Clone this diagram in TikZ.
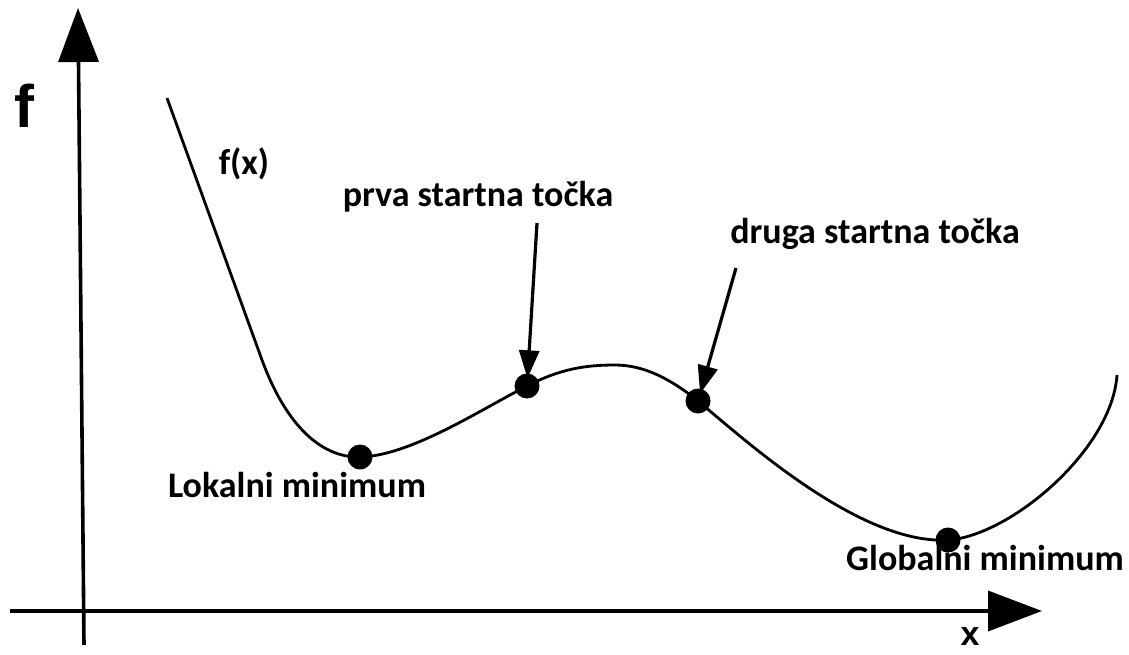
\documentclass[tikz,border=0pt]{standalone}
\usepackage{fontspec}
\setmainfont{Carlito}
\newfontfamily\arialfont{Liberation Sans}
\usetikzlibrary{arrows.meta}
\begin{document}
\begin{tikzpicture}[x=1pt,y=-1pt,
  axisline/.style={line width=3.6pt,-{Triangle[length=54pt,width=40pt]}},
  pointer/.style={line width=3.2pt,-{Triangle[length=28pt,width=20pt]},shorten >=-5pt},
  curveline/.style={line width=2.8pt},
  dotnode/.style={circle,fill=black,inner sep=0pt,minimum size=25pt},
  lbl/.style={inner sep=0pt,anchor=base,font=\fontsize{36}{40}\selectfont\bfseries}
]
\useasboundingbox (0,0) rectangle (1129,655);
% axes
\coordinate (yb) at (84,645);
\coordinate (yt) at (78,8);
\coordinate (xl) at (10,611);
\coordinate (xr) at (1042,611);
\draw[axisline] (yb) -- (yt);
\draw[axisline] (xl) -- (xr);
\node[inner sep=0pt,anchor=base,font=\arialfont\fontsize{60}{62}\selectfont\bfseries] (flbl) at (24,128) {f};
\node[inner sep=0pt,anchor=base,font=\arialfont\fontsize{34}{38}\selectfont\bfseries] (xlbl) at (970,645) {x};
% curve
\draw[curveline] (167,98) -- (262,360)
  .. controls (284,420) and (318,458) .. (360,457)
  .. controls (410,456) and (480,410) .. (527,386)
  .. controls (560,369) and (585,365) .. (615,365)
  .. controls (645,365) and (672,380) .. (698,401)
  .. controls (745,440) and (860,545) .. (948,540)
  .. controls (1010,536) and (1112,450) .. (1117,375);
% dots
\node[dotnode] (dmin1) at (360,457) {};
\node[dotnode] (dst1) at (527,386) {};
\node[dotnode] (dst2) at (698,401) {};
\node[dotnode] (dmin2) at (948,540) {};
% labels
\node[lbl] (fx) at (244,175) {f(x)};
\node[lbl] (prva) at (478,207) {prva startna točka};
\node[lbl] (druga) at (875,243) {druga startna točka};
\node[lbl] (lok) at (297,497) {Lokalni minimum};
\node[lbl] (glob) at (985,570) {Globalni minimum};
% pointers
\coordinate (p1) at (537,223);
\coordinate (p2) at (736,268);
\draw[pointer] (p1) -- (dst1);
\draw[pointer] (p2) -- (dst2);
\end{tikzpicture}
\end{document}
